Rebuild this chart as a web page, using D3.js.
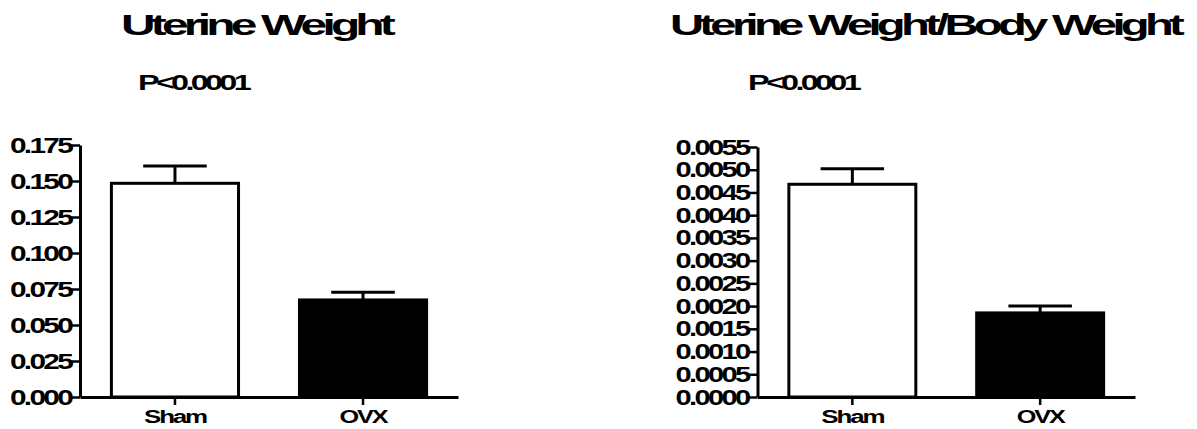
<!DOCTYPE html>
<html>
<head>
<meta charset="utf-8">
<script src="https://cdn.jsdelivr.net/npm/d3@7"></script>
<style>
  body { margin: 0; background: #fff; }
  text { font-family: "Liberation Sans", Arial, sans-serif; font-weight: bold; fill: #000; }
</style>
</head>
<body>
<svg width="1197" height="429"></svg>
<script>
'use strict';

// data
const categories = ["Sham", "OVX"];
const fills = ["#fff", "#000"];

const uterineMean = [0.1484, 0.0674];
const uterineErr = [0.0120, 0.0053];
const uterineTicks = [0, 0.025, 0.05, 0.075, 0.1, 0.125, 0.15, 0.175];

const ratioMean = [0.00468, 0.00185];
const ratioErr = [0.00034, 0.00015];
const ratioTicks = [0, 0.0005, 0.001, 0.0015, 0.002, 0.0025, 0.003, 0.0035,
                    0.004, 0.0045, 0.005, 0.0055];

const svg = d3.select("svg");

// prism style text: wide glyphs, tight spacing
function squeeze(sel, size, w, ls) {
    sel.attr("font-size", size)
        .attr("font-family", null)
        .attr("fill", "#000")
        .style("letter-spacing", ls + "px")
        .attr("textLength", w)
        .attr("lengthAdjust", "spacingAndGlyphs");
}

function panel(o) {
    const y = d3.scaleLinear()
        .domain([0, o.ticks[o.ticks.length - 1]])
        .range([o.bottom, o.top]);
    const x = d3.scaleBand()
        .domain(categories)
        .range([o.left, o.right])
        .paddingInner(0.324)
        .paddingOuter(0.167);

    // title + p value
    svg.append("text")
        .attr("x", o.titleX).attr("y", 35)
        .attr("text-anchor", "middle")
        .text(o.title)
        .call(squeeze, 30, o.titleW, -3);
    svg.append("text")
        .attr("x", o.pX).attr("y", 90)
        .text("P<0.0001")
        .call(squeeze, 22, 110, -2.5);

    const g = svg.append("g");

    // bars
    g.selectAll("rect")
        .data(o.mean)
        .join("rect")
        .attr("x", (d, i) => x(categories[i]))
        .attr("y", d => y(d))
        .attr("width", x.bandwidth())
        .attr("height", d => y(0) - y(d))
        .attr("fill", (d, i) => fills[i])
        .attr("stroke", "#000")
        .attr("stroke-width", 3);

    // error bars (upper only)
    const capW = x.bandwidth() / 2;
    o.mean.forEach((m, i) => {
        const cx = x(categories[i]) + x.bandwidth() / 2;
        const top = y(m + o.err[i]);
        g.append("line")
            .attr("x1", cx).attr("x2", cx)
            .attr("y1", y(m)).attr("y2", top)
            .attr("stroke", "#000").attr("stroke-width", 3);
        g.append("line")
            .attr("x1", cx - capW / 2).attr("x2", cx + capW / 2)
            .attr("y1", top).attr("y2", top)
            .attr("stroke", "#000").attr("stroke-width", 3);
    });

    // y axis
    const ya = g.append("g")
        .attr("transform", `translate(${o.left},0)`)
        .call(d3.axisLeft(y)
            .tickValues(o.ticks)
            .tickFormat(d3.format(o.fmt))
            .tickSize(9)
            .tickSizeOuter(0)
            .tickPadding(0));
    ya.select(".domain").attr("stroke-width", 3);
    ya.selectAll(".tick line").attr("stroke-width", 2.5);
    ya.selectAll(".tick text").call(squeeze, 22, o.tickW, -2);

    // x axis
    const xa = g.append("g")
        .attr("transform", `translate(0,${o.bottom})`)
        .call(d3.axisBottom(x).tickSize(8).tickSizeOuter(0).tickPadding(5));
    xa.select(".domain").attr("stroke-width", 3);
    xa.selectAll(".tick line").attr("stroke-width", 2.5);
    xa.selectAll(".tick text").each(function (d) {
        d3.select(this).call(squeeze, 18, d === "Sham" ? 62 : 47, -1.5);
    });
}

panel({
    title: "Uterine Weight", titleX: 256, titleW: 270, pX: 138,
    mean: uterineMean, err: uterineErr, ticks: uterineTicks, fmt: ".3f",
    left: 80, right: 458, top: 145, bottom: 397, tickW: 61
});

panel({
    title: "Uterine Weight/Body Weight", titleX: 925, titleW: 510, pX: 748,
    mean: ratioMean, err: ratioErr, ticks: ratioTicks, fmt: ".4f",
    left: 757.5, right: 1135, top: 147, bottom: 397, tickW: 73
});
</script>
</body>
</html>
